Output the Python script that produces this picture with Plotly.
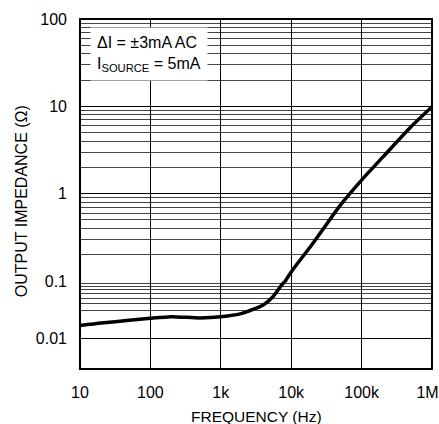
import plotly.graph_objects as go

# Output impedance vs. frequency
freq_hz = [10, 20, 50, 100, 200, 500, 1000, 2000, 4000, 5500, 7200,
           10000, 20000, 50000, 100000, 200000, 500000, 1000000]
impedance_ohm = [0.0165, 0.0183, 0.0204, 0.0222, 0.0237, 0.0225, 0.0235, 0.027,
                 0.038, 0.053, 0.083, 0.127, 0.265, 0.74, 1.43, 2.62,
                 5.8, 9.9]

x_tickvals = [10, 100, 1e3, 1e4, 1e5, 1e6]
# trailing no-break spaces keep the last label inside the page edge
x_ticktext = ["10", "100", "1k", "10k", "100k", "1M\u00a0\u00a0"]
y_upper_ticks = [0.1, 1, 10, 100]
y_lower_ticks = [0.01]

FONT = "Liberation Sans, Arial, sans-serif"
TICK_FONT = dict(family=FONT, size=16, color="black")

fig = go.Figure()
# same curve on both y scales; each subplot clips it to its own band
for ax in ("y", "y2"):
    fig.add_trace(go.Scatter(
        x=freq_hz, y=impedance_ohm, yaxis=ax, mode="lines",
        line=dict(color="black", width=3.5, shape="spline", smoothing=0.6),
        showlegend=False, hoverinfo="skip",
    ))

upper_minor = [m * 10.0 ** d for d in (-1, 0, 1) for m in range(2, 10)]
lower_minor = [m * 0.01 for m in range(3, 10)]

grid_major = dict(showgrid=True, gridcolor="black", gridwidth=1)

fig.update_layout(
    width=439, height=424,
    margin=dict(l=80, r=7, t=19, b=55, autoexpand=False),
    paper_bgcolor="white", plot_bgcolor="white",
    xaxis=dict(
        type="log", range=[1, 6], tickvals=x_tickvals, ticktext=x_ticktext,
        tickfont=TICK_FONT, ticks="", ticklabelstandoff=12,
        ticklabeloverflow="allow", automargin=False,
        zeroline=False, showline=False, anchor="y2", **grid_major,
    ),
    yaxis=dict(
        type="log", range=[-1, 2], domain=[0.2514, 1], anchor="x",
        tickvals=y_upper_ticks, ticktext=["0.1", "1", "10", "100"],
        tickfont=TICK_FONT, ticks="", ticklabelstandoff=12, automargin=False,
        minor=dict(tickvals=upper_minor, showgrid=True,
                   gridcolor="#444", gridwidth=1, ticks=""),
        zeroline=False, showline=False, **grid_major,
    ),
    yaxis2=dict(
        type="log", range=[-2.544, -1], domain=[0, 0.2514], anchor="x",
        tickvals=y_lower_ticks, ticktext=["0.01"],
        tickfont=TICK_FONT, ticks="", ticklabelstandoff=12, automargin=False,
        minor=dict(tickvals=lower_minor, showgrid=True,
                   gridcolor="#444", gridwidth=1, ticks=""),
        zeroline=False, showline=False, **grid_major,
    ),
)

# plot frame
fig.add_shape(type="rect", xref="paper", yref="paper", x0=0, x1=1, y0=0, y1=1,
              line=dict(color="black", width=2), layer="above")

# axis titles
fig.add_annotation(text="FREQUENCY (Hz)", xref="paper", yref="paper",
                   x=0.5, y=-0.135, xanchor="center", yanchor="middle",
                   showarrow=False, font=dict(family=FONT, size=15.5, color="black"))
fig.add_annotation(text="OUTPUT IMPEDANCE (Ω)", xref="paper", yref="paper",
                   x=-0.167, y=0.48, xanchor="center", yanchor="middle",
                   textangle=-90, showarrow=False,
                   font=dict(family=FONT, size=16, color="black"))

# test conditions box
fig.add_annotation(text="ΔI = ±3mA AC<br>I<sub>SOURCE</sub> = 5mA",
                   xref="paper", yref="paper", x=0.028, y=0.977,
                   xanchor="left", yanchor="top", align="left",
                   showarrow=False, bgcolor="white", borderpad=6,
                   font=dict(family=FONT, size=16, color="black"))

fig.write_html("out.html")
